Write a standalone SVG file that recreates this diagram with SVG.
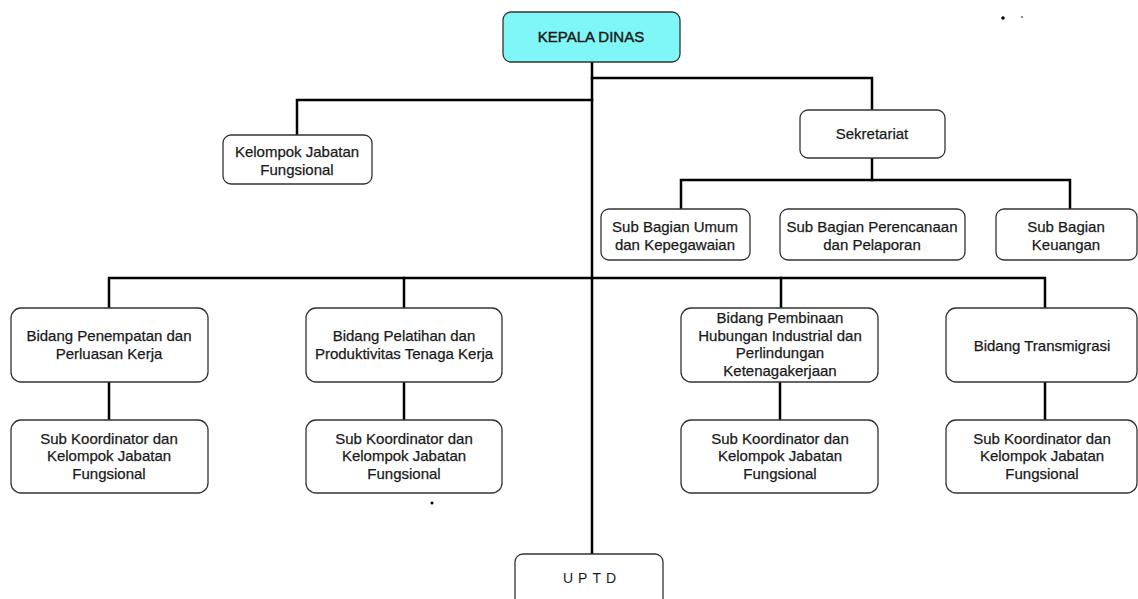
<svg xmlns="http://www.w3.org/2000/svg" width="1138" height="599" viewBox="0 0 1138 599">
<style>
.box{fill:#fff;stroke:#333;stroke-width:1.3}
.head{fill:#7ff7f7;stroke:#333;stroke-width:1.3}
.t{font-family:"Liberation Sans",Arial,sans-serif;font-size:15px;fill:#1a1a1a;stroke:#1a1a1a;stroke-width:0.25;text-anchor:middle}
.ln{fill:none;stroke:#000;stroke-width:2.5;stroke-linecap:square}
</style>
<rect width="1138" height="599" fill="#fff"/>
<g id="connectors">
<path class="ln" d="M592 62V554"/>
<path class="ln" d="M592 78H872V110"/>
<path class="ln" d="M592 100H297V135"/>
<path class="ln" d="M872 158V180"/>
<path class="ln" d="M681 209V180H1070V209"/>
<path class="ln" d="M109 308V278H1045V308"/>
<path class="ln" d="M404 278V308"/>
<path class="ln" d="M781 278V308"/>
<path class="ln" d="M109 382V420"/>
<path class="ln" d="M404 382V420"/>
<path class="ln" d="M780 382V420"/>
<path class="ln" d="M1045 382V420"/>
</g>
<g id="kepala"><rect class="head" x="503" y="12" width="177" height="50" rx="8"/><text class="t" x="591" y="42" style="stroke-width:0.45">KEPALA DINAS</text></g>
<g id="kelompok"><rect class="box" x="223" y="135" width="149" height="49" rx="8"/><text class="t" x="297" y="156.5">Kelompok Jabatan</text><text class="t" x="297" y="174.5">Fungsional</text></g>
<g id="sekretariat"><rect class="box" x="800" y="110" width="145" height="48" rx="8"/><text class="t" x="872" y="139">Sekretariat</text></g>
<g id="umum"><rect class="box" x="601" y="209" width="149" height="51" rx="8"/><text class="t" x="675" y="232">Sub Bagian Umum</text><text class="t" x="675" y="250">dan Kepegawaian</text></g>
<g id="perencanaan"><rect class="box" x="780" y="209" width="185" height="51" rx="8"/><text class="t" x="872" y="232">Sub Bagian Perencanaan</text><text class="t" x="872" y="250">dan Pelaporan</text></g>
<g id="keuangan"><rect class="box" x="996" y="209" width="141" height="51" rx="8"/><text class="t" x="1066" y="232">Sub Bagian</text><text class="t" x="1066" y="250">Keuangan</text></g>
<g id="bidang1"><rect class="box" x="11" y="308" width="197" height="74" rx="10"/><text class="t" x="109" y="341">Bidang Penempatan dan</text><text class="t" x="109" y="358.5">Perluasan Kerja</text></g>
<g id="bidang2"><rect class="box" x="306" y="308" width="196" height="74" rx="10"/><text class="t" x="404" y="341">Bidang Pelatihan dan</text><text class="t" x="404" y="358.5">Produktivitas Tenaga Kerja</text></g>
<g id="bidang3"><rect class="box" x="681" y="308" width="197" height="74" rx="10"/><text class="t" x="780" y="323">Bidang Pembinaan</text><text class="t" x="780" y="340.5">Hubungan Industrial dan</text><text class="t" x="780" y="358">Perlindungan</text><text class="t" x="780" y="375.5">Ketenagakerjaan</text></g>
<g id="bidang4"><rect class="box" x="946" y="308" width="191" height="74" rx="10"/><text class="t" x="1042" y="351">Bidang Transmigrasi</text></g>
<g id="sub1"><rect class="box" x="11" y="420" width="197" height="73" rx="10"/><text class="t" x="109" y="443.5">Sub Koordinator dan</text><text class="t" x="109" y="461">Kelompok Jabatan</text><text class="t" x="109" y="478.5">Fungsional</text></g>
<g id="sub2"><rect class="box" x="306" y="420" width="196" height="73" rx="10"/><text class="t" x="404" y="443.5">Sub Koordinator dan</text><text class="t" x="404" y="461">Kelompok Jabatan</text><text class="t" x="404" y="478.5">Fungsional</text></g>
<g id="sub3"><rect class="box" x="681" y="420" width="197" height="73" rx="10"/><text class="t" x="780" y="443.5">Sub Koordinator dan</text><text class="t" x="780" y="461">Kelompok Jabatan</text><text class="t" x="780" y="478.5">Fungsional</text></g>
<g id="sub4"><rect class="box" x="946" y="420" width="191" height="73" rx="10"/><text class="t" x="1042" y="443.5">Sub Koordinator dan</text><text class="t" x="1042" y="461">Kelompok Jabatan</text><text class="t" x="1042" y="478.5">Fungsional</text></g>
<g id="uptd"><rect class="box" x="515" y="554" width="148" height="60" rx="8"/><text class="t" x="592" y="583" style="font-size:14px;letter-spacing:5px;stroke-width:0">UPTD</text></g>
<g id="dots" fill="#000"><circle cx="432" cy="503" r="1.5"/><circle cx="1003" cy="18" r="1.8"/><circle cx="1022" cy="17" r="0.8"/></g>
</svg>
